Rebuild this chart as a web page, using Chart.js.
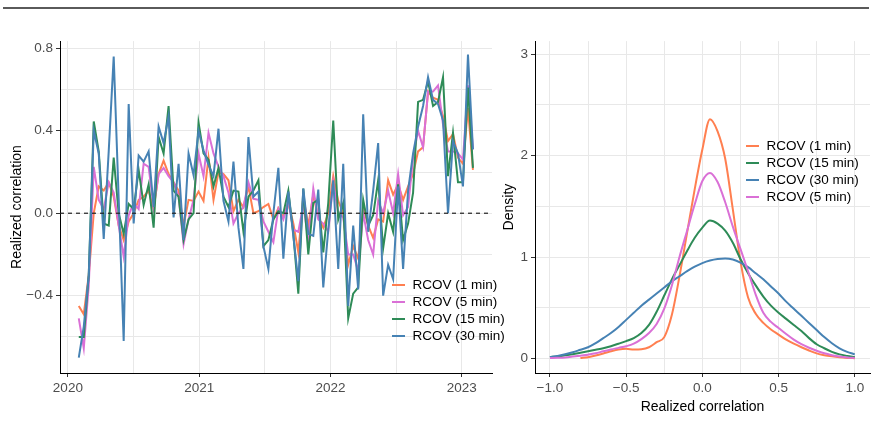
<!DOCTYPE html>
<html lang="en">
<head>
    <meta charset="UTF-8">
    <title>Realized correlation</title>
    <script src="https://cdn.jsdelivr.net/npm/chart.js"></script>
    <style>
        body { margin: 0; background: #fff; font-family: "Liberation Sans", Arial, sans-serif; }
        #wrap { position: relative; width: 872px; height: 431px; overflow: hidden; }
        .top-rule { position: absolute; left: 3px; top: 7px; width: 866px; height: 2px; background: #5a5a5a; }
        canvas { position: absolute; top: 30px; }
        #leftChart { left: 0; }
        #rightChart { left: 500px; }
        .legend { position: absolute; font-size: 13.5px; color: #000; }
        .legend .row { height: 17px; display: flex; align-items: center; white-space: nowrap; }
        .legend .key { display: inline-block; width: 13px; height: 2px; margin-right: 7.5px; }
    </style>
</head>
<body>
<div id="wrap">
    <div class="top-rule"></div>
    <canvas id="leftChart" width="500" height="400"></canvas>
    <canvas id="rightChart" width="372" height="400"></canvas>
    <div id="leftLegend" class="legend" style="left:392px; top:276px;"></div>
    <div id="rightLegend" class="legend" style="left:746px; top:137px;"></div>
</div>

<script>
    // ---- time series panel (roughly every two weeks, Feb 2020 - Feb 2023) ----
    const firstObs = 2020.083;
    const obsStep = 0.038; // years between observations
    const obsCount = 80;
    const obsYears = Array.from({ length: obsCount }, (_, i) => firstObs + i * obsStep);

    const rcov1 = [
        -0.45, -0.49, -0.30, 0.00, 0.13, 0.11, 0.15, 0.08, -0.06, -0.13,
        -0.04, 0.00, 0.065, 0.08, 0.11, 0.02, 0.19, 0.255, 0.19, 0.15,
        0.11, -0.06, 0.065, 0.06, 0.105, 0.06, 0.27, 0.065, 0.20, 0.19,
        0.16, 0.01, 0.065, 0.03, 0.13, 0.00, 0.01, 0.03, 0.045, -0.03,
        0.025, -0.02, 0.05, -0.05, -0.19, 0.08, -0.06, 0.09, -0.02, -0.07,
        0.00, 0.18, 0.06, 0.00, -0.25, -0.16, -0.22, 0.03, -0.06, -0.12,
        -0.03, -0.04, 0.16, 0.09, 0.14, 0.065, 0.13, 0.19, 0.30, 0.32,
        0.59, 0.56, 0.55, 0.47, 0.35, 0.385, 0.27, 0.24, 0.51, 0.21
    ];
    const rcov5 = [
        -0.51, -0.655, -0.35, 0.225, 0.065, 0.02, 0.15, 0.10, -0.06, -0.21,
        -0.01, 0.05, 0.02, 0.24, 0.225, 0.03, 0.19, 0.22, 0.18, 0.15,
        0.08, -0.15, -0.03, 0.065, 0.29, 0.18, 0.39, 0.29, 0.225, 0.18,
        0.10, -0.05, 0.00, 0.03, 0.15, 0.07, 0.065, -0.04, -0.09, -0.14,
        0.02, -0.03, 0.06, -0.08, -0.09, 0.04, -0.13, 0.12, -0.03, -0.05,
        -0.09, 0.15, 0.00, -0.02, -0.20, -0.20, -0.28, 0.00, -0.13, -0.20,
        0.06, 0.00, 0.11, 0.00, 0.19, -0.01, 0.03, 0.27, 0.40, 0.32,
        0.59, 0.59, 0.62, 0.43, 0.30, 0.30, 0.29, 0.26, 0.62, 0.31
    ];
    const rcov15 = [
        -0.60, -0.60, -0.30, 0.445, 0.30, -0.05, -0.06, 0.27, 0.00, -0.10,
        0.045, 0.02, 0.21, 0.04, 0.14, -0.07, 0.37, 0.29, 0.52, 0.11,
        0.08, -0.13, -0.03, 0.00, 0.44, 0.29, 0.26, 0.13, 0.22, 0.08,
        0.03, 0.11, 0.105, -0.09, 0.08, 0.11, 0.16, -0.16, -0.13, -0.03,
        0.01, 0.00, 0.11, -0.10, -0.39, 0.12, -0.20, 0.05, 0.065, -0.19,
        0.05, 0.45, -0.03, 0.05, -0.51, -0.39, -0.36, 0.065, -0.06, -0.01,
        0.16, -0.17, 0.00, -0.09, 0.14, -0.13, -0.05, 0.10, 0.54, 0.55,
        0.64, 0.52, 0.54, 0.66, 0.18, 0.39, 0.15, 0.15, 0.61, 0.22
    ];
    const rcov30 = [
        -0.70, -0.55, -0.30, 0.40, 0.29, -0.125, 0.30, 0.76, 0.07, -0.62,
        0.53, -0.05, 0.28, 0.25, 0.30, 0.03, 0.42, 0.34, 0.47, -0.02,
        0.24, -0.13, 0.29, 0.185, 0.40, 0.305, 0.235, 0.18, 0.41, 0.06,
        -0.04, 0.25, -0.07, -0.27, 0.37, 0.08, 0.105, -0.16, -0.27, 0.00,
        0.22, -0.22, 0.105, -0.11, -0.33, 0.12, -0.10, -0.11, 0.115, -0.36,
        -0.08, 0.16, -0.27, 0.24, -0.45, -0.06, -0.37, 0.48, -0.09, 0.11,
        0.34, -0.40, -0.25, -0.32, 0.13, -0.27, 0.11, 0.29, 0.42, 0.52,
        0.66, 0.55, 0.53, 0.45, 0.00, 0.35, 0.29, 0.13, 0.77, 0.31
    ];

    const leftXTicks = [2020, 2020.5, 2021, 2021.5, 2022, 2022.5, 2023];
    const leftXLabeled = [2020, 2021, 2022, 2023];
    const leftYTicks = [-0.6, -0.4, -0.2, 0, 0.2, 0.4, 0.6, 0.8];
    const leftYLabeled = [-0.4, 0, 0.4, 0.8];

    // ---- density panel ----
    const densityGrid = [
        -1.00, -0.95, -0.90, -0.85, -0.80, -0.75, -0.70, -0.65, -0.60, -0.55,
        -0.50, -0.45, -0.40, -0.35, -0.30, -0.25, -0.20, -0.15, -0.10, -0.05,
        0.00, 0.05, 0.10, 0.15, 0.20, 0.25, 0.30, 0.35, 0.40, 0.45,
        0.50, 0.55, 0.60, 0.65, 0.70, 0.75, 0.80, 0.85, 0.90, 0.95, 1.00
    ];
    const dens1 = [
        null, null, null, null, 0.003, 0.012, 0.028, 0.048, 0.07, 0.088,
        0.095, 0.087, 0.09, 0.11, 0.16, 0.21, 0.43, 0.81, 1.24, 1.67,
        2.06, 2.36, 2.24, 1.97, 1.47, 0.96, 0.60, 0.44, 0.35, 0.285,
        0.235, 0.185, 0.145, 0.11, 0.078, 0.05, 0.032, 0.02, 0.011, 0.005, 0.002
    ];
    const dens15 = [
        0.013, 0.02, 0.03, 0.04, 0.055, 0.07, 0.085, 0.10, 0.12, 0.145,
        0.17, 0.20, 0.25, 0.33, 0.46, 0.62, 0.78, 0.92, 1.06, 1.19,
        1.29, 1.36, 1.33, 1.26, 1.14, 0.98, 0.84, 0.72, 0.61, 0.52,
        0.45, 0.39, 0.33, 0.27, 0.20, 0.14, 0.10, 0.065, 0.04, 0.025, 0.013
    ];
    const dens30 = [
        0.013, 0.025, 0.04, 0.06, 0.085, 0.11, 0.15, 0.20, 0.25, 0.31,
        0.38, 0.45, 0.52, 0.58, 0.64, 0.70, 0.76, 0.81, 0.86, 0.905,
        0.94, 0.965, 0.98, 0.985, 0.975, 0.945, 0.90, 0.84, 0.78, 0.71,
        0.64, 0.56, 0.49, 0.42, 0.35, 0.28, 0.21, 0.15, 0.10, 0.065, 0.04
    ];
    const dens5 = [
        0.003, 0.006, 0.01, 0.018, 0.027, 0.037, 0.05, 0.07, 0.088, 0.104,
        0.12, 0.145, 0.19, 0.25, 0.34, 0.49, 0.72, 1.0, 1.26, 1.52,
        1.75, 1.83, 1.74, 1.54, 1.30, 1.08, 0.86, 0.63, 0.45, 0.36,
        0.30, 0.24, 0.185, 0.14, 0.105, 0.075, 0.05, 0.032, 0.018, 0.009, 0.004
    ];

    const rightXTicks = [-1, -0.75, -0.5, -0.25, 0, 0.25, 0.5, 0.75, 1];
    const rightXLabeled = [-1, -0.5, 0, 0.5, 1];
    const rightYTicks = [0, 0.5, 1, 1.5, 2, 2.5, 3];
    const rightYLabeled = [0, 1, 2, 3];

    const colors = { '1 min': '#FF7F50', '5 min': '#DA70D6', '15 min': '#2E8B57', '30 min': '#4682B4' };

    // ---- shared styling ----
    Chart.defaults.font.family = '"Liberation Sans", Arial, sans-serif';
    Chart.defaults.font.size = 13.5;

    const gridColor = '#e8e8e8';
    const tickText = '#4d4d4d';
    const titleFont = { size: 14 };
    const fmt = v => (v < 0 ? '\u2212' : '') + Math.abs(v).toFixed(1);
    const has = (arr, v) => arr.some(a => Math.abs(a - v) < 1e-9);

    function axis(ticksArr, labeled, label, extra) {
        return Object.assign({
            type: 'linear',
            afterBuildTicks: a => { a.ticks = ticksArr.map(v => ({ value: v })); },
            ticks: {
                color: tickText, padding: 3, maxRotation: 0, autoSkip: false,
                callback: v => has(labeled, v) ? label(v) : ''
            },
            grid: {
                color: gridColor, lineWidth: 1, tickLength: 4,
                tickColor: c => has(labeled, c.tick.value) ? '#333' : 'rgba(0,0,0,0)'
            },
            border: { display: true, color: '#000', width: 1 }
        }, extra);
    }

    const zeroLine = {
        id: 'zeroLine',
        afterDatasetsDraw(chart) {
            const { ctx, chartArea, scales: { y } } = chart;
            const py = y.getPixelForValue(0);
            ctx.save();
            ctx.strokeStyle = '#222';
            ctx.lineWidth = 1.2;
            ctx.setLineDash([4, 4]);
            ctx.beginPath();
            ctx.moveTo(chartArea.left, py);
            ctx.lineTo(chartArea.right, py);
            ctx.stroke();
            ctx.restore();
        }
    };

    const toPoints = (xs, ys) => ys.map((v, i) => ({ x: xs[i], y: v }));

    // left panel: blue drawn on top (lowest order)
    const leftSeries = [
        { name: 'RCOV (1 min)', values: rcov1, color: colors['1 min'], order: 3 },
        { name: 'RCOV (5 min)', values: rcov5, color: colors['5 min'], order: 2 },
        { name: 'RCOV (15 min)', values: rcov15, color: colors['15 min'], order: 1 },
        { name: 'RCOV (30 min)', values: rcov30, color: colors['30 min'], order: 0 }
    ];

    new Chart(document.getElementById('leftChart'), {
        type: 'line',
        data: {
            datasets: leftSeries.map(s => ({
                label: s.name,
                data: toPoints(obsYears, s.values),
                borderColor: s.color,
                backgroundColor: s.color,
                order: s.order
            }))
        },
        options: {
            responsive: false,
            animation: false,
            devicePixelRatio: 1,
            layout: { padding: { top: 8, right: 8, left: 0, bottom: 0 } },
            plugins: { legend: { display: false }, tooltip: { enabled: false } },
            elements: { point: { radius: 0 }, line: { borderWidth: 2, tension: 0 } },
            scales: {
                x: axis(leftXTicks, leftXLabeled, v => String(v), {
                    min: 2019.94, max: 2023.23,
                    afterFit: s => { s.height = 57; }
                }),
                y: axis(leftYTicks, leftYLabeled, fmt, {
                    min: -0.775, max: 0.835,
                    afterFit: s => { s.width = 60; },
                    title: { display: true, text: 'Realized correlation', color: '#000', font: titleFont, padding: { top: 8.5, bottom: 0 } }
                })
            }
        },
        plugins: [zeroLine]
    });

    // right panel: legend order as in the source, pink drawn on top
    const rightSeries = [
        { name: 'RCOV (1 min)', values: dens1, color: colors['1 min'], order: 3 },
        { name: 'RCOV (15 min)', values: dens15, color: colors['15 min'], order: 2 },
        { name: 'RCOV (30 min)', values: dens30, color: colors['30 min'], order: 1 },
        { name: 'RCOV (5 min)', values: dens5, color: colors['5 min'], order: 0 }
    ];

    new Chart(document.getElementById('rightChart'), {
        type: 'line',
        data: {
            datasets: rightSeries.map(s => ({
                label: s.name,
                data: toPoints(densityGrid, s.values),
                borderColor: s.color,
                backgroundColor: s.color,
                order: s.order,
                cubicInterpolationMode: 'monotone',
                spanGaps: false
            }))
        },
        options: {
            responsive: false,
            animation: false,
            devicePixelRatio: 1,
            layout: { padding: { top: 8, right: 2, left: 0, bottom: 0 } },
            plugins: { legend: { display: false }, tooltip: { enabled: false } },
            elements: { point: { radius: 0 }, line: { borderWidth: 2 } },
            scales: {
                x: axis(rightXTicks, rightXLabeled, fmt, {
                    min: -1.098, max: 1.10,
                    afterFit: s => { s.height = 57; },
                    title: { display: true, text: 'Realized correlation', color: '#000', font: titleFont, padding: { top: 0, bottom: 14.5 } }
                }),
                y: axis(rightYTicks, rightYLabeled, v => String(v), {
                    min: -0.144, max: 3.13,
                    afterFit: s => { s.width = 35; },
                    title: { display: true, text: 'Density', color: '#000', font: titleFont, padding: { top: 1, bottom: 0 } }
                })
            }
        }
    });

    // legends (html, built from the same series lists)
    function buildLegend(id, series) {
        const box = document.getElementById(id);
        series.forEach(s => {
            const row = document.createElement('div');
            row.className = 'row';
            const key = document.createElement('span');
            key.className = 'key';
            key.style.background = s.color;
            row.appendChild(key);
            row.appendChild(document.createTextNode(s.name));
            box.appendChild(row);
        });
    }
    buildLegend('leftLegend', leftSeries);
    buildLegend('rightLegend', rightSeries);
</script>
</body>
</html>
